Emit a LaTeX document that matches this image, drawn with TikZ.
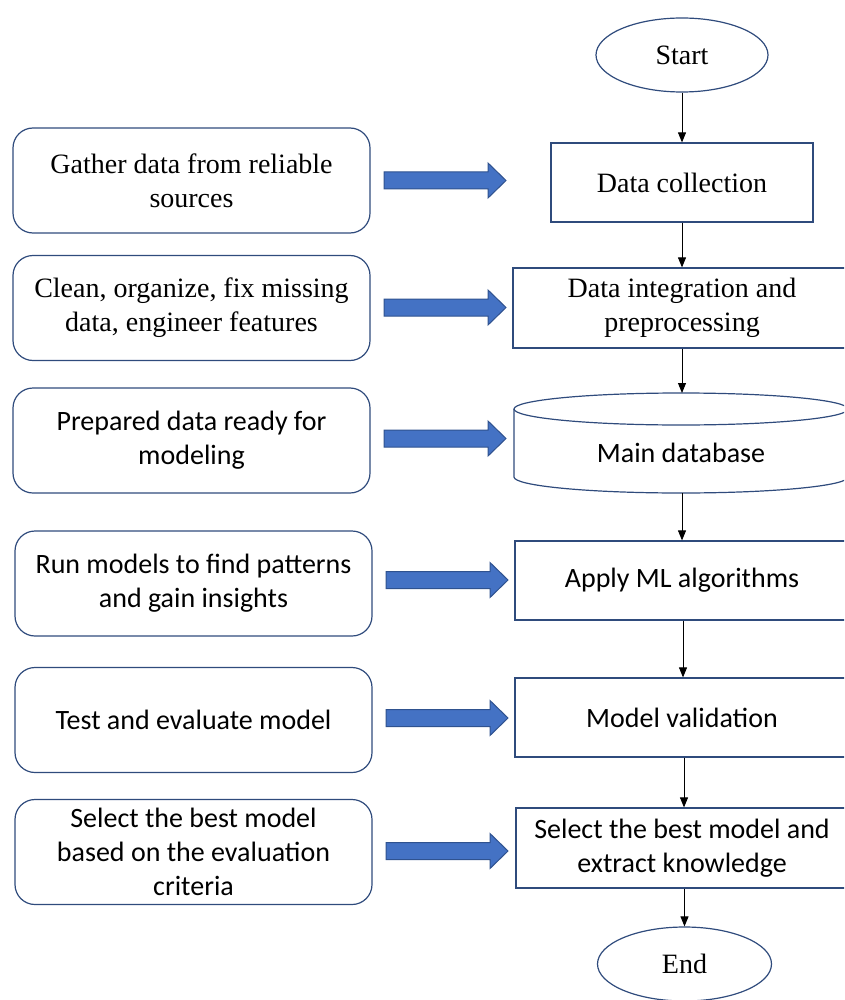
\documentclass[tikz,border=0pt]{standalone}
\usepackage{fontspec}
\setmainfont{Liberation Serif}
\newfontfamily\calib{Carlito}
\usetikzlibrary{arrows.meta,shapes.geometric}
\definecolor{bord}{HTML}{2F4B7C}
\definecolor{arrfill}{HTML}{4472C4}
\definecolor{arrline}{HTML}{2F528F}
\tikzset{
  txt/.style={font=\fontsize{28}{34}\selectfont},
  ctxt/.style={font=\calib\fontsize{28}{34}\selectfont},
  lbox/.style={draw=bord, line width=1.2pt, rounded corners=20pt, minimum width=357pt, minimum height=105pt, align=center, inner sep=0pt},
  rbox/.style={draw=bord, line width=1.2pt, minimum height=79pt, align=center, inner sep=0pt},
  term/.style={draw=bord, line width=1.2pt, ellipse, minimum width=172pt, minimum height=74pt, inner sep=0pt},
  flow/.style={-{Triangle[length=10pt,width=8pt]}, line width=0.9pt, black},
  barrow/.style={fill=arrfill, draw=arrline, line width=1pt, line join=miter}
}
\newcommand\blockarrow[2]{%
  \draw[barrow] (#1,#2-8.5) -- (#1+104,#2-8.5) -- (#1+104,#2-17.5) -- (#1+122,#2)
    -- (#1+104,#2+17.5) -- (#1+104,#2+8.5) -- (#1,#2+8.5) -- cycle;}
\begin{document}
\begin{tikzpicture}[x=1pt,y=-1pt]
\useasboundingbox (0,0) rectangle (844,1000);
\clip (0,0) rectangle (844,1000);
% left boxes
\node[lbox,txt] (l1) at (191.5,180.5) {Gather data from reliable\\sources};
\node[lbox,txt] (l2) at (191.5,308) {Clean, organize, fix missing\\data, engineer features};
\node[lbox,ctxt] (l3) at (191.5,440.5) {Prepared data ready for\\modeling};
\node[lbox,ctxt] (l4) at (193.5,583.5) {Run models to find patterns\\and gain insights};
\node[lbox,ctxt] (l5) at (193.5,720) {Test and evaluate model};
\node[lbox,ctxt] (l6) at (193.5,852) {Select the best model\\based on the evaluation\\criteria};
% block arrows
\blockarrow{384}{180.5}
\blockarrow{384}{307.5}
\blockarrow{384}{438.5}
\blockarrow{386}{580}
\blockarrow{386}{718}
\blockarrow{386}{851}
% right column
\node[term,txt] (start) at (682,55) {Start};
\node[rbox,txt,minimum width=262pt] (dc) at (682,182.5) {Data collection};
\node[rbox,txt,minimum width=338pt,minimum height=80pt] (di) at (682,308) {Data integration and\\preprocessing};
% cylinder
\draw[draw=bord, line width=1.2pt] (681,409) ellipse [x radius=167pt, y radius=16pt];
\draw[draw=bord, line width=1.2pt] (514,409) -- (514,477) arc[start angle=180, end angle=360, x radius=167pt, y radius=16pt] -- (848,409);
\node[ctxt] (db) at (681,453) {Main database};
\coordinate (dbtop) at (682,393);
\coordinate (dbbot) at (682,493);
\node[rbox,ctxt,minimum width=334pt] (ml) at (682,580.5) {Apply ML algorithms};
\node[rbox,ctxt,minimum width=334pt] (mv) at (682,717.5) {Model validation};
\node[rbox,ctxt,minimum width=332pt,minimum height=80pt] (sel) at (682,848) {Select the best model and\\extract knowledge};
\node[term,txt,minimum width=174pt] (endn) at (684.5,964) {End};
% connectors
\draw[flow] (start) -- (dc);
\draw[flow] (dc) -- (di);
\draw[flow] (di.south) -- (dbtop);
\draw[flow] (dbbot) -- (ml.north);
\draw[flow] (ml.south -| 683,0) -- (mv.north -| 683,0);
\draw[flow] (mv.south -| 684,0) -- (sel.north -| 684,0);
\draw[flow] (sel.south -| endn.north) -- (endn.north);
\end{tikzpicture}
\end{document}
